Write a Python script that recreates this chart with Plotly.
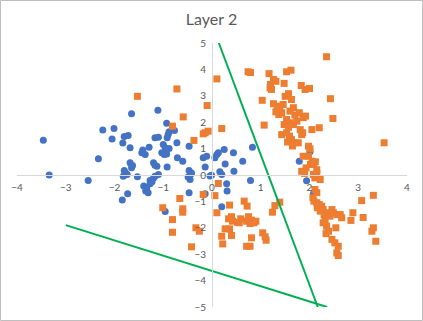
import plotly.graph_objects as go

# class 1 points (blue circles)
blue_x = [-3.46, -3.34, -2.54, -2.33, -2.24, -2.01, -2.05, -1.80, -1.72, -1.83, -1.68, -1.65,
          -1.11, -0.93, -0.77, -0.88, -0.90, -0.92, -1.17, -1.10, -1.42, -1.37, -1.29, -1.44,
          -1.00, -0.96, -0.88, -1.03, -0.98, -0.93, -0.72, -0.71, -0.60, -0.47, -1.68, -1.65,
          -1.63, -1.80, -1.74, -1.82, -1.77, -1.53, -1.73, -1.84, -1.20, -1.17, -1.13, -0.92,
          -1.17, -1.10, -1.20, -1.27, -1.23, -1.27, -1.34, -1.36, -1.31, -1.40, -0.47, -0.44,
          -0.49, -0.45, -0.42, -0.18, -0.11, -0.14, -0.04, -0.01, 0.10, 0.06, 0.13, 0.25,
          0.27, 0.16, 0.20, 0.44, 0.45, 0.63, 0.83, 0.79, 0.30, 0.31, -0.47, -0.14,
          0.20, -0.96, 2.01, 1.79, 1.94, 2.08]
blue_y = [1.32, 0.00, -0.21, 0.62, 1.70, 1.76, 1.36, 1.46, 1.50, 1.21, 1.03, 2.32,
          2.45, 1.96, 1.69, 1.64, 1.53, 1.41, 1.41, 1.43, 0.95, 0.78, 1.05, 0.84,
          1.16, 1.03, 1.00, 0.84, 0.78, 0.80, 1.22, 0.65, 0.52, 1.09, 0.46, 0.27,
          0.36, 0.17, 0.02, -0.05, 0.08, -0.07, -0.71, -0.95, 0.46, 0.37, 0.33, 0.30,
          -0.05, 0.02, -0.11, -0.21, -0.26, -0.33, -0.49, -0.61, -0.67, -0.42, 0.17, 0.02,
          -0.08, -0.17, 0.08, 0.65, 0.71, 0.30, -0.04, -0.01, 0.78, 0.65, 0.84, 0.97,
          0.42, 0.12, 0.02, 0.84, 0.14, 0.52, 1.05, -0.21, -0.33, -0.61, -0.67, -0.71,
          -1.20, -1.38, 0.88, 0.52, -0.22, -0.70]

# class 2 points (orange squares)
orange_x = [-1.53, -0.72, 0.10, -0.10, -0.59, -0.81, -0.18, -0.08, -0.14, 0.20, -0.37,
            0.74, 0.79, 1.17, 1.26, 1.31, 1.20, 1.19, 1.22, 1.53, 1.62, 1.48, 1.83, 1.91,
            2.00, 2.35, 2.43, 2.48, 1.03, 1.07, 3.53,
            1.26, 1.34, 1.39, 1.31, 1.37, 1.43, 1.46, 1.50, 1.57, 1.63, 1.67, 1.60, 1.70,
            1.79, 1.87, 1.92, 1.53, 1.60, 1.48, 1.57, 1.67, 1.74, 1.81, 1.86, 1.53, 1.59,
            1.63, 1.70, 1.77, 1.98, 2.01, 2.05, 2.20, 1.84, 1.43, 1.55, 1.65,
            1.87, 1.98, 2.05, 2.02, 2.09, 1.93, 1.84, 1.90, 2.08, 2.15, 2.11, 2.22, 2.12, 2.15,
            2.11, 2.15, 2.07, 2.09, 2.15, 2.20, 2.16, 2.25, 2.22, 2.28, 2.30, 2.37, 2.42,
            2.46, 2.49, 2.56, 2.63, 2.66, 2.32, 2.28, 2.35, 2.39, 2.54, 2.34, 2.46, 2.52,
            2.59, 2.56, 2.59,
            3.07, 3.31, 2.89, 3.10, 2.85, 3.31, 3.28, 3.36,
            0.13, 0.06, -0.18, -0.66, -1.01, -0.60, -0.60, -0.81, -0.81, -0.33, -0.26, -0.42,
            0.10, 0.36, 0.66, 0.72, 0.75, 0.40, 0.34, 0.42, 0.52, 0.59, 0.56, 0.71, 0.81,
            0.86, 0.90, 0.78, 0.27, 0.36, 0.40, 0.20, 0.22, 0.81, 0.71, 0.78, 1.04, 1.09,
            1.11, 1.24, 1.29, 1.39]
orange_y = [2.98, 3.26, 3.64, 2.63, 2.20, 1.85, 1.56, 1.66, 1.60, 1.76, 1.31,
            3.91, 3.88, 3.84, 3.62, 3.55, 3.43, 3.30, 3.24, 3.91, 3.97, 3.47, 3.39, 3.24,
            3.28, 4.48, 2.89, 2.14, 2.83, 1.89, 1.22,
            2.70, 2.61, 2.55, 2.39, 2.29, 2.36, 2.67, 2.98, 3.08, 2.86, 2.55, 2.42, 2.27,
            2.36, 2.17, 2.23, 2.10, 1.98, 1.91, 1.81, 1.91, 2.04, 1.72, 1.60, 1.60, 1.47,
            1.34, 1.22, 1.22, 1.09, 0.99, 1.72, 1.79, 1.53, 1.53, 1.25, 1.10,
            0.71, 0.71, 0.52, 0.40, 0.40, 0.27, 0.14, 0.06, 0.02, 0.06, -0.11, -0.17, 0.50, 0.20,
            -0.55, -0.67, -0.86, -0.99, -1.05, -1.12, -1.24, -1.18, -1.37, -1.31, -1.50, -1.43, -1.56,
            -1.31, -1.43, -1.50, -1.50, -1.62, -1.69, -1.81, -1.94, -2.13, -2.00, -2.22, -2.44, -2.57,
            -2.70, -2.95, -3.05,
            -0.97, -0.77, -1.43, -1.61, -1.72, -2.00, -2.13, -2.51,
            -0.32, -0.78, -0.74, -0.89, -1.24, -1.28, -1.41, -1.69, -2.17, -2.00, -2.13, -2.72,
            -1.43, -1.14, -0.99, -1.18, -1.58, -1.58, -1.66, -1.75, -1.79, -1.66, -1.81, -1.75, -1.71,
            -1.81, -1.75, -1.84, -2.04, -2.04, -2.29, -2.32, -2.61, -2.38, -2.70, -2.70, -2.19, -2.34,
            -2.47, -1.41, -1.16, -1.03]

# separating lines (end points)
line1_x = [0.14, 2.17]
line1_y = [5.0, -5.0]
line2_x = [-3.0, 2.36]
line2_y = [-1.9, -5.0]

ticks_x = [-4, -3, -2, -1, 0, 1, 2, 3, 4]
ticks_y = [-5, -4, -3, -2, -1, 0, 1, 2, 3, 4, 5]

fig = go.Figure()

fig.add_trace(go.Scatter(x=blue_x, y=blue_y, mode='markers',
                         marker=dict(symbol='circle', size=7, color='#4472C4')))
fig.add_trace(go.Scatter(x=orange_x, y=orange_y, mode='markers',
                         marker=dict(symbol='square', size=7, color='#ED7D31')))
fig.add_trace(go.Scatter(x=line1_x, y=line1_y, mode='lines',
                         line=dict(color='#00B050', width=2)))
fig.add_trace(go.Scatter(x=line2_x, y=line2_y, mode='lines',
                         line=dict(color='#00B050', width=2)))

# axes cross at the origin, Excel style
axis_style = dict(showgrid=False, zeroline=False, showline=True, linecolor='#d9d9d9',
                  linewidth=1, ticks='', tickfont=dict(size=10, color='#595959'))

fig.update_layout(
    width=423, height=321,
    margin=dict(l=17, r=16, t=43, b=14, autoexpand=False),
    paper_bgcolor='white', plot_bgcolor='white',
    font=dict(family='Lato, Calibri, sans-serif', color='#595959'),
    title=dict(text='Layer 2', x=0.5, xanchor='center', y=0.94, yanchor='middle',
               font=dict(size=16, color='#595959')),
    xaxis=dict(range=[-4, 4], tickvals=ticks_x, anchor='free', position=0.5,
               ticklabelstandoff=3, **axis_style),
    yaxis=dict(range=[-5, 5], tickvals=ticks_y, anchor='free', position=0.5,
               ticklabelstandoff=4, **axis_style),
    showlegend=False,
    shapes=[dict(type='rect', xref='paper', yref='paper',
                 x0=-16.5 / 390, x1=1 + 15.5 / 390, y0=-13.5 / 264, y1=1 + 42.5 / 264,
                 line=dict(color='#bfbfbf', width=1))]
)

# drop the default page margin so the chart sits at the window origin
fig.write_html("out.html", config={'displayModeBar': False},
               post_script="document.body.style.margin='0';")
